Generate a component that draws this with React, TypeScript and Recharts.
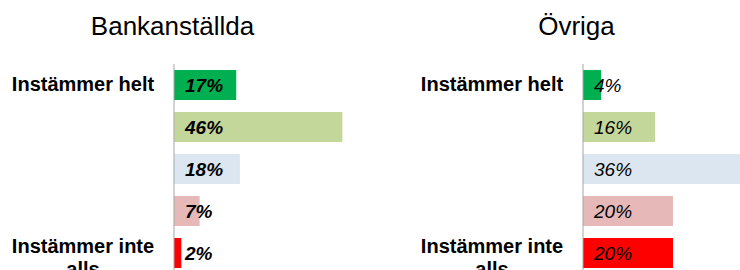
import { BarChart, Bar, XAxis, YAxis, Cell, LabelList } from "recharts";

// ─── Data ────────────────────────────────────────

const categories = ["helt", "ganska", "varken", "knappast", "inte"];
const tickLabels = ["Instämmer helt", "", "", "", "Instämmer inte\nalls"];
const bankValues = [17, 46, 18, 7, 2];
const ovrigaValues = [4, 16, 36, 20, 20];

const barColors = ["#00b050", "#c4d79b", "#dce6f1", "#e6b9b8", "#ff0000"];

const FONT = "'Liberation Sans', Arial, sans-serif";

// ─── Category tick ───────────────────────────────

function CategoryTick({ x, y, payload }: { x?: number; y?: number; payload?: { index: number } }) {
  const label = tickLabels[payload?.index ?? 0] ?? "";
  if (!label) return null;
  const lines = label.split("\n");
  const cx = (x ?? 0) - 91;
  const startY = lines.length > 1 ? (y ?? 0) : (y ?? 0) + 6;
  return (
    <text
      x={cx}
      y={startY}
      textAnchor="middle"
      fontFamily={FONT}
      fontSize={20}
      fontWeight="bold"
      fill="#000"
    >
      {lines.map((line, i) => (
        <tspan key={i} x={cx} dy={i === 0 ? 0 : 22.5}>
          {line}
        </tspan>
      ))}
    </text>
  );
}

// ─── Panel ───────────────────────────────────────

function Panel({
  values,
  max,
  width,
  axisWidth,
  bold,
}: {
  values: number[];
  max: number;
  width: number;
  axisWidth: number;
  bold: boolean;
}) {
  const data = categories.map((c, i) => ({ category: c, value: values[i] }));
  return (
    <BarChart
      width={width}
      height={274}
      data={data}
      layout="vertical"
      margin={{ top: 64, right: 0, left: 0, bottom: 0 }}
      barCategoryGap={12}
    >
      <XAxis type="number" domain={[0, max]} hide />
      <YAxis
        type="category"
        dataKey="category"
        width={axisWidth}
        axisLine={{ stroke: "#a6a6a6", strokeWidth: 1 }}
        tickLine={false}
        tickSize={0}
        tickMargin={0}
        interval={0}
        tick={<CategoryTick />}
      />
      <Bar dataKey="value" barSize={30} isAnimationActive={false}>
        {data.map((d, i) => (
          <Cell key={d.category} fill={barColors[i]} />
        ))}
        <LabelList
          dataKey="value"
          position="insideLeft"
          offset={11}
          formatter={(v: number) => `${v}%`}
          style={{
            fontFamily: FONT,
            fontSize: 19,
            fontStyle: "italic",
            fontWeight: bold ? "bold" : "normal",
            fill: "#000",
          }}
        />
      </Bar>
    </BarChart>
  );
}

// ─── Component ───────────────────────────────────

export default function App() {
  const titleStyle = {
    position: "absolute" as const,
    top: 11,
    fontFamily: FONT,
    fontSize: 26,
    lineHeight: "30px",
    color: "#000",
    transform: "translateX(-50%)",
    whiteSpace: "nowrap" as const,
  };
  return (
    <div
      style={{
        position: "absolute",
        left: 0,
        top: 0,
        width: 740,
        height: 270,
        overflow: "hidden",
        background: "#fff",
      }}
    >
      <div style={{ ...titleStyle, left: 172.5 }}>Bankanställda</div>
      <div style={{ ...titleStyle, left: 576.5 }}>Övriga</div>
      <div style={{ position: "absolute", left: 0, top: 0 }}>
        <Panel values={bankValues} max={50} width={357} axisWidth={174} bold />
      </div>
      <div style={{ position: "absolute", left: 370, top: 0 }}>
        <Panel values={ovrigaValues} max={40} width={393} axisWidth={213} bold={false} />
      </div>
    </div>
  );
}
